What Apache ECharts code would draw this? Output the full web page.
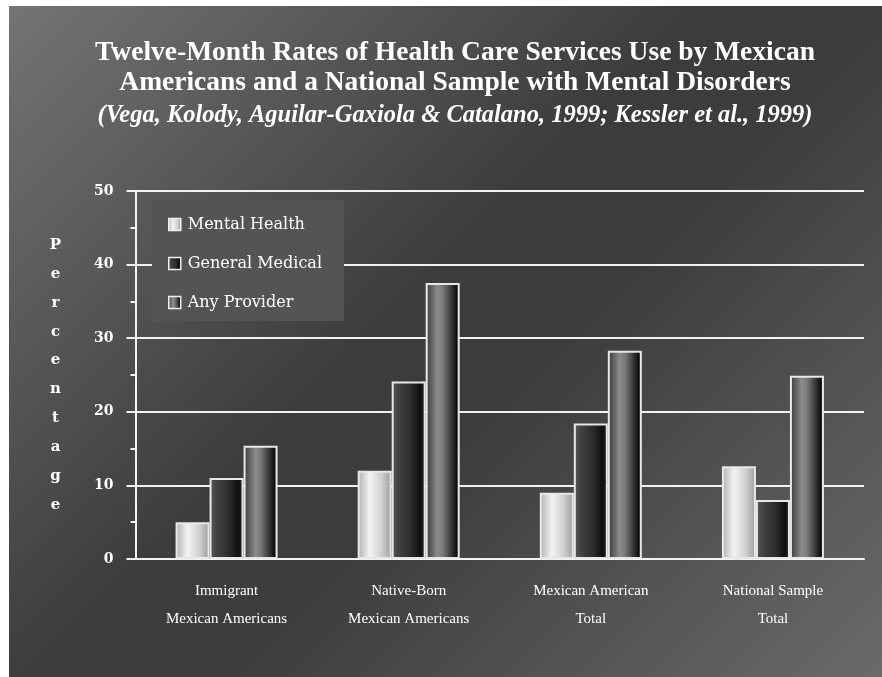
<!DOCTYPE html>
<html>
<head>
<meta charset="utf-8">
<script src="https://cdn.jsdelivr.net/npm/echarts@6/dist/echarts.min.js"></script>
<style>
  html, body { margin: 0; padding: 0; background: #ffffff; }
  #bg { position: absolute; left: 9px; top: 6px; width: 873px; height: 671px;
        background: linear-gradient(135deg, #747474 0%, #3c3c3c 45%, #3d3d3d 58%, #6a6a6a 100%); }
  #chart { position: absolute; left: 0; top: 0; width: 882px; height: 677px; }
</style>
</head>
<body>
<div id="bg"></div>
<div id="chart"></div>
<script>
const categories = ['Immigrant\nMexican Americans', 'Native-Born\nMexican Americans', 'Mexican American\nTotal', 'National Sample\nTotal'];
const seriesNames = ['Mental Health', 'General Medical', 'Any Provider'];
const mentalHealth = [5.0, 12.0, 9.0, 12.6];
const generalMedical = [11.0, 24.1, 18.4, 8.0];
const anyProvider = [15.4, 37.5, 28.3, 24.9];
const yTicks = [0, 10, 20, 30, 40, 50];

function grad(stops) {
  return new echarts.graphic.LinearGradient(0, 0, 1, 0, stops.map(s => ({ offset: s[0], color: s[1] })));
}
const fills = [
  grad([[0, '#b0b0b0'], [0.35, '#f3f3f3'], [0.7, '#d0d0d0'], [1, '#9a9a9a']]),
  grad([[0, '#5a5a5a'], [0.2, '#424242'], [0.55, '#2e2e2e'], [0.85, '#0e0e0e'], [1, '#2e2e2e']]),
  grad([[0, '#3a3a3a'], [0.15, '#5c5c5c'], [0.35, '#8c8c8c'], [0.5, '#7a7a7a'], [0.8, '#2a2a2a'], [0.92, '#0a0a0a'], [1, '#3a3a3a']])
];
const values = [mentalHealth, generalMedical, anyProvider];

const chart = echarts.init(document.getElementById('chart'), null, { renderer: 'canvas' });
const option = {
  backgroundColor: 'transparent',
  animation: false,
  title: {
    text: 'Twelve-Month Rates of Health Care Services Use by Mexican\nAmericans and a National Sample with Mental Disorders',
    subtext: '(Vega, Kolody, Aguilar-Gaxiola & Catalano, 1999; Kessler et al., 1999)',
    left: 455,
    top: 38,
    padding: 0,
    textAlign: 'center',
    itemGap: 5,
    textStyle: { color: '#ffffff', fontFamily: 'Liberation Serif', fontWeight: 'bold', fontSize: 27.5, lineHeight: 30 },
    subtextStyle: { color: '#ffffff', fontFamily: 'Liberation Serif', fontWeight: 'bold', fontStyle: 'italic', fontSize: 24.5, lineHeight: 26 }
  },
  legend: {
    orient: 'vertical',
    left: 152,
    top: 200,
    padding: [15, 22, 9, 16],
    itemGap: 20,
    itemWidth: 12,
    itemHeight: 12,
    backgroundColor: '#545454',
    icon: 'rect',
    itemStyle: { borderColor: '#f0f0f0', borderWidth: 1.5 },
    textStyle: { color: '#ffffff', fontFamily: 'DejaVu Serif', fontSize: 16, lineHeight: 19, padding: [0, 0, 0, 2] },
    data: seriesNames
  },
  grid: { left: 135.5, right: 18, top: 191, bottom: 118, containLabel: false },
  xAxis: {
    type: 'category',
    data: categories,
    axisLine: { lineStyle: { color: '#f2f2f2', width: 2 } },
    axisTick: { show: false },
    axisLabel: { color: '#ffffff', fontFamily: 'Liberation Serif', fontSize: 15, lineHeight: 28, margin: 18, interval: 0 }
  },
  yAxis: {
    type: 'value',
    min: yTicks[0],
    max: yTicks[yTicks.length - 1],
    interval: 10,
    name: 'P\ne\nr\nc\ne\nn\nt\na\ng\ne',
    nameLocation: 'middle',
    nameRotate: 0,
    nameGap: 80,
    nameTextStyle: { color: '#ffffff', fontFamily: 'DejaVu Serif', fontWeight: 'bold', fontSize: 15, lineHeight: 28.9, align: 'center', verticalAlign: 'middle', padding: [0, 0, 14, 0] },
    axisLine: { show: true, lineStyle: { color: '#f2f2f2', width: 2 } },
    axisTick: { show: true, length: 9, lineStyle: { color: '#f2f2f2', width: 2 } },
    minorTick: { show: true, splitNumber: 2, length: 5, lineStyle: { color: '#f2f2f2', width: 2 } },
    splitLine: { show: true, lineStyle: { color: '#f2f2f2', width: 2 } },
    axisLabel: { color: '#ffffff', fontFamily: 'DejaVu Serif', fontWeight: 'bold', fontSize: 14, margin: 22 }
  },
  series: seriesNames.map((name, i) => ({
    name: name,
    type: 'bar',
    data: values[i],
    barWidth: 34,
    barGap: '0%',
    itemStyle: { color: fills[i], borderColor: '#e8e8e8', borderWidth: 2 }
  }))
};
chart.setOption(option);
</script>
</body>
</html>
